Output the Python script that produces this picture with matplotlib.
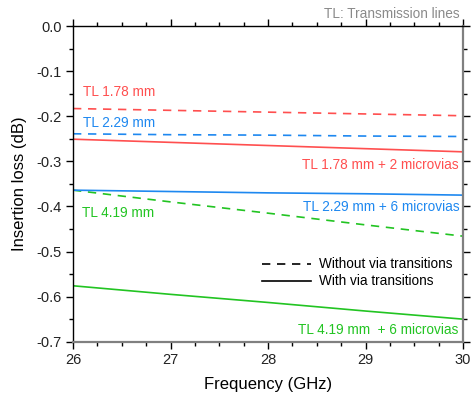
import matplotlib.pyplot as plt
from matplotlib.ticker import MultipleLocator

plt.rcParams['font.family'] = ['Liberation Sans', 'DejaVu Sans']

freq = [26, 27, 28, 29, 30]

tl178 = [-0.183, -0.187, -0.191, -0.195, -0.199]
tl229 = [-0.239, -0.241, -0.242, -0.244, -0.245]
tl419 = [-0.364, -0.390, -0.415, -0.441, -0.466]
tl178_via = [-0.251, -0.258, -0.265, -0.272, -0.279]
tl229_via = [-0.364, -0.367, -0.370, -0.372, -0.375]
tl419_via = [-0.576, -0.595, -0.613, -0.632, -0.650]

red = '#ff4f4f'
blue = '#1e88f0'
green = '#22c422'

fig = plt.figure(figsize=(4.75, 3.96), dpi=100)
ax = fig.add_axes([73 / 475, 1 - 341.7 / 396, 390 / 475, 315.7 / 396])

ax.plot(freq, tl178, '--', color=red, lw=1.2, dashes=(5, 4))
ax.plot(freq, tl229, '--', color=blue, lw=1.2, dashes=(5, 4))
ax.plot(freq, tl419, '--', color=green, lw=1.2, dashes=(5, 4))
ax.plot(freq, tl178_via, '-', color=red, lw=1.2)
ax.plot(freq, tl229_via, '-', color=blue, lw=1.2)
ax.plot(freq, tl419_via, '-', color=green, lw=1.2)

ax.set_xlim(26, 30)
ax.set_ylim(-0.7, 0.0)
ax.xaxis.set_major_locator(MultipleLocator(1))
ax.xaxis.set_minor_locator(MultipleLocator(0.25))
ax.yaxis.set_major_locator(MultipleLocator(0.1))
ax.yaxis.set_minor_locator(MultipleLocator(0.05))
ax.yaxis.set_major_formatter(lambda v, p: f'{v:.1f}'.replace('-0.0', '0.0'))

ax.tick_params(which='both', direction='out', top=True, right=True, labelsize=10.5, pad=3,
               labelcolor='#222222')
ax.tick_params(which='major', length=5, width=1)
ax.tick_params(which='minor', length=3, width=1)
for s in ['right', 'bottom']:
    ax.spines[s].set_color('#808080')
    ax.spines[s].set_linewidth(1.6)
for s in ['left', 'top']:
    ax.spines[s].set_linewidth(1.0)

ax.set_xlabel('Frequency (GHz)', fontsize=12, labelpad=7)
ax.set_ylabel('Insertion loss (dB)', fontsize=12, labelpad=7)

fs = 9.8
ax.text(26.10, -0.147, 'TL 1.78 mm', color=red, fontsize=fs, va='center')
ax.text(26.10, -0.214, 'TL 2.29 mm', color=blue, fontsize=fs, va='center')
ax.text(29.95, -0.308, 'TL 1.78 mm + 2 microvias', color=red, fontsize=fs, va='center', ha='right')
ax.text(29.97, -0.402, 'TL 2.29 mm + 6 microvias', color=blue, fontsize=fs, va='center', ha='right')
ax.text(26.09, -0.415, 'TL 4.19 mm', color=green, fontsize=fs, va='center')
ax.text(29.95, -0.675, 'TL 4.19 mm  + 6 microvias', color=green, fontsize=fs, va='center', ha='right')
ax.text(29.97, 0.012, 'TL: Transmission lines', color='#8a8a8a', fontsize=fs, va='bottom', ha='right')

ax.plot([27.94, 28.44], [-0.527, -0.527], '--', color='black', lw=1.2, dashes=(5, 4))
ax.plot([27.94, 28.44], [-0.566, -0.566], '-', color='black', lw=1.2)
ax.text(28.52, -0.527, 'Without via transitions', fontsize=fs, va='center')
ax.text(28.52, -0.566, 'With via transitions', fontsize=fs, va='center')

fig.savefig('out.png', dpi=100)
